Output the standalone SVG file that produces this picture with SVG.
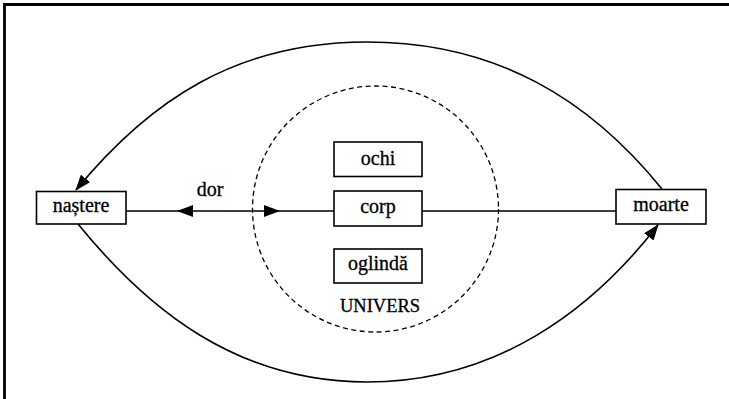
<svg xmlns="http://www.w3.org/2000/svg" width="729" height="399" viewBox="0 0 729 399">
  <defs>
    <style>
      .frame { fill: none; stroke: #000; stroke-width: 2.8; }
      .box { fill: #fff; stroke: #000; stroke-width: 1.6; }
      .lbl { font-family: 'Liberation Serif', 'Times New Roman', 'DejaVu Serif', serif; font-size: 20px; fill: #000; stroke: #000; stroke-width: 0.3; text-anchor: middle; }
      .edge { fill: none; stroke: #000; stroke-width: 1.6; }
      .ring { fill: none; stroke: #000; stroke-width: 1.3; stroke-dasharray: 5 3.5; }
      .head { fill: #000; stroke: none; }
    </style>
    <marker id="arrow" viewBox="0 0 16 12" refX="15" refY="6" markerWidth="16" markerHeight="12" markerUnits="userSpaceOnUse" orient="auto">
      <path class="head" d="M0,0 L16,6 L0,12 Z"/>
    </marker>
  </defs>

  <rect width="729" height="399" fill="#fff"/>

  <!-- page frame: top and left rules only -->
  <path class="frame" d="M4.5,399 V4.5 H729"/>

  <!-- dashed boundary of the universe -->
  <circle class="ring" cx="375.5" cy="209" r="123"/>

  <g id="connectors">
    <!-- horizontal axis -->
    <line class="edge" x1="126" y1="211" x2="334" y2="211"/>
    <line class="edge" x1="422" y1="211" x2="616" y2="211"/>
    <!-- dor: double arrow on the axis -->
    <polygon class="head" points="177,211 193,205 193,217"/>
    <polygon class="head" points="280,211 264,205 264,217"/>
    <!-- upper arc: moarte back to nastere -->
    <path class="edge" marker-end="url(#arrow)" d="M662,189 C590,100 497,42 367,42 C237,42 150,100 76,190"/>
    <!-- lower arc: nastere to moarte -->
    <path class="edge" marker-end="url(#arrow)" d="M78,224 C148,310 237,382 367,382 C497,382 592,310 658,225"/>
  </g>

  <text class="lbl" x="210" y="196">dor</text>

  <g id="nastere">
    <rect class="box" x="36.5" y="191.5" width="89.5" height="32.5"/>
    <text class="lbl" x="81" y="212">naștere</text>
  </g>

  <g id="moarte">
    <rect class="box" x="616" y="189.5" width="90" height="34.5"/>
    <text class="lbl" x="661" y="211">moarte</text>
  </g>

  <g id="ochi">
    <rect class="box" x="334" y="142" width="88" height="34.5"/>
    <text class="lbl" x="378" y="165">ochi</text>
  </g>

  <g id="corp">
    <rect class="box" x="334" y="191" width="88" height="35"/>
    <text class="lbl" x="378" y="213">corp</text>
  </g>

  <g id="oglinda">
    <rect class="box" x="334" y="249" width="88" height="34"/>
    <text class="lbl" x="378" y="270">oglindă</text>
  </g>

  <text class="lbl" x="380" y="311.5" style="font-size:18.5px">UNIVERS</text>
</svg>
